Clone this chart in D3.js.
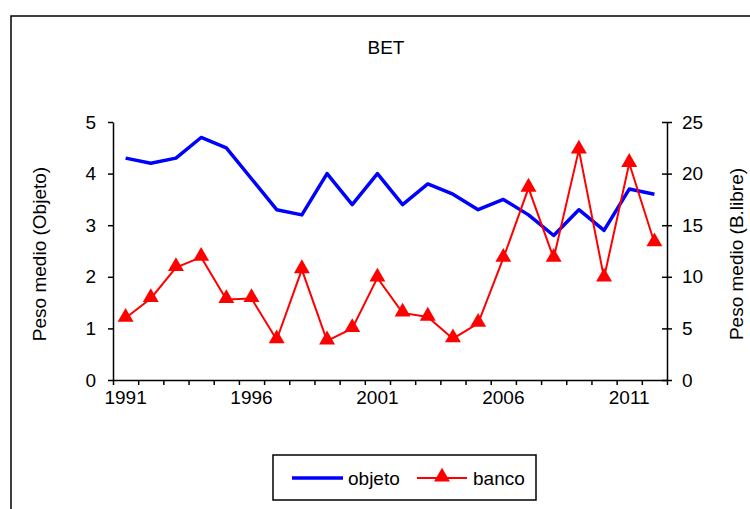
<!DOCTYPE html>
<html>
<head>
<meta charset="utf-8">
<script src="https://cdn.jsdelivr.net/npm/d3@7"></script>
<style>
  body { margin: 0; background: #fff; }
  svg text { font-family: "Liberation Sans", Arial, sans-serif; fill: #000; }
</style>
</head>
<body>
<div id="chart"></div>
<script>
// years on the category axis
const years = d3.range(1991, 2013);
const yearLabels = [1991, 1996, 2001, 2006, 2011];

// peso medio (objeto), left axis
const objeto = [4.3, 4.2, 4.3, 4.7, 4.5, 3.9, 3.3, 3.2, 4.0, 3.4, 4.0,
                3.4, 3.8, 3.6, 3.3, 3.5, 3.2, 2.8, 3.3, 2.9, 3.7, 3.6];

// peso medio (B.libre), right axis
const banco = [6.0, 7.9, 10.9, 11.9, 7.8, 7.9, 3.9, 10.7, 3.8, 5.0, 9.9,
               6.5, 6.1, 4.0, 5.5, 11.8, 18.6, 11.8, 22.3, 9.9, 21.0, 13.3];

const leftTicks = [0, 1, 2, 3, 4, 5];
const rightTicks = [0, 5, 10, 15, 20, 25];

const width = 750, height = 509;
const plot = { left: 113, right: 667, top: 122, bottom: 380 };
const fs = "19px";

const svg = d3.select("#chart")
  .append("svg")
  .attr("width", width)
  .attr("height", height);

// chart area border (runs off the right and bottom edges)
svg.append("rect")
  .attr("x", 11).attr("y", 16)
  .attr("width", 800).attr("height", 600)
  .attr("fill", "#fff")
  .attr("stroke", "#000")
  .attr("stroke-width", 1.5);

const x = d3.scaleBand().domain(years).range([plot.left, plot.right]).padding(0);
const xEdge = d3.scaleLinear().domain([0, years.length]).range([plot.left, plot.right]);
const yL = d3.scaleLinear().domain([0, 5]).range([plot.bottom, plot.top]);
const yR = d3.scaleLinear().domain([0, 25]).range([plot.bottom, plot.top]);
const cx = d => x(d) + x.bandwidth() / 2;

function styleAxis(g) {
  g.selectAll("path").attr("stroke", "#000").attr("stroke-width", 1.5);
  g.selectAll("line").attr("stroke", "#000").attr("stroke-width", 1.5);
  g.selectAll("text").style("font-size", fs).attr("fill", "#000");
}

// category tick marks between years
svg.append("g")
  .attr("transform", `translate(0,${plot.bottom})`)
  .call(d3.axisBottom(xEdge).tickValues(d3.range(years.length + 1)).tickFormat("").tickSize(5).tickSizeOuter(0))
  .call(styleAxis);

// year labels
svg.append("g")
  .attr("transform", `translate(0,${plot.bottom})`)
  .call(d3.axisBottom(x).tickValues(yearLabels).tickSize(0).tickPadding(11))
  .call(g => g.select(".domain").remove())
  .call(styleAxis);

svg.append("g")
  .attr("transform", `translate(${plot.left},0)`)
  .call(d3.axisLeft(yL).tickValues(leftTicks).tickFormat(d3.format("d")).tickSize(5).tickSizeOuter(0).tickPadding(12))
  .call(styleAxis);

svg.append("g")
  .attr("transform", `translate(${plot.right},0)`)
  .call(d3.axisRight(yR).tickValues(rightTicks).tickFormat(d3.format("d")).tickSize(5).tickSizeOuter(0).tickPadding(10))
  .call(g => g.selectAll(".tick line").attr("x1", -5))
  .call(styleAxis);

// title and axis titles
svg.append("text")
  .attr("x", 386).attr("y", 54)
  .attr("text-anchor", "middle")
  .style("font-size", fs)
  .text("BET");

svg.append("text")
  .attr("transform", "translate(46,254) rotate(-90)")
  .attr("text-anchor", "middle")
  .style("font-size", fs)
  .text("Peso medio (Objeto)");

svg.append("text")
  .attr("transform", "translate(743,254) rotate(-90)")
  .attr("text-anchor", "middle")
  .style("font-size", fs)
  .text("Peso medio (B.libre)");

// objeto line
const lineL = d3.line().x((d, i) => cx(years[i])).y(d => yL(d));
svg.append("path")
  .datum(objeto)
  .attr("d", lineL)
  .attr("fill", "none")
  .attr("stroke", "#0000ff")
  .attr("stroke-width", 3.5)
  .attr("stroke-linejoin", "round");

// banco line with triangles
const lineR = d3.line().x((d, i) => cx(years[i])).y(d => yR(d));
svg.append("path")
  .datum(banco)
  .attr("d", lineR)
  .attr("fill", "none")
  .attr("stroke", "#ff0000")
  .attr("stroke-width", 2);

const tri = d3.symbol().type(d3.symbolTriangle).size(110);
svg.selectAll(".mk")
  .data(banco)
  .enter()
  .append("path")
  .attr("class", "mk")
  .attr("d", tri)
  .attr("transform", (d, i) => `translate(${cx(years[i])},${yR(d) - 1})`)
  .attr("fill", "#ff0000");

// legend
const lg = svg.append("g");
lg.append("rect")
  .attr("x", 273).attr("y", 455)
  .attr("width", 263).attr("height", 45)
  .attr("fill", "#fff")
  .attr("stroke", "#000")
  .attr("stroke-width", 1.5);
lg.append("line")
  .attr("x1", 292).attr("x2", 343).attr("y1", 478).attr("y2", 478)
  .attr("stroke", "#0000ff").attr("stroke-width", 3.5);
lg.append("text").attr("x", 348).attr("y", 485).style("font-size", fs).text("objeto");
lg.append("line")
  .attr("x1", 417).attr("x2", 467).attr("y1", 478).attr("y2", 478)
  .attr("stroke", "#ff0000").attr("stroke-width", 2);
lg.append("path")
  .attr("d", tri)
  .attr("transform", "translate(442,477)")
  .attr("fill", "#ff0000");
lg.append("text").attr("x", 473).attr("y", 485).style("font-size", fs).text("banco");
</script>
</body>
</html>
